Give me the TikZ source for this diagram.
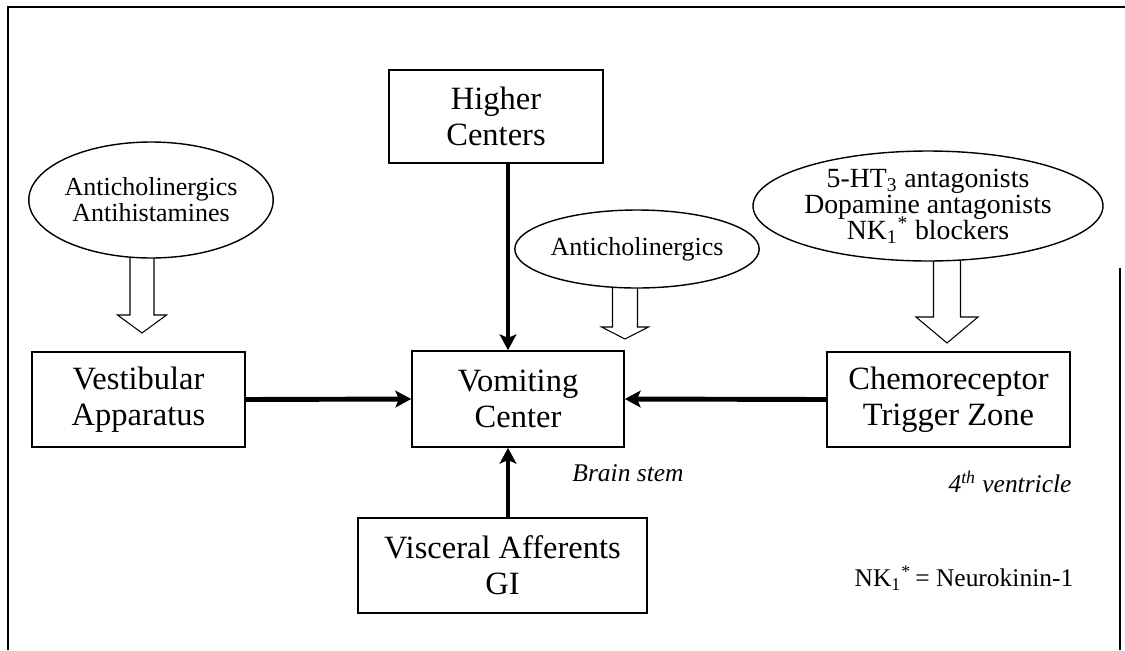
\documentclass[tikz,border=0pt]{standalone}
\usepackage{fontspec}
\setmainfont{Liberation Serif}
\usepackage{tikz}
\usetikzlibrary{calc,arrows.meta,shapes.geometric,backgrounds}
\newcommand{\tightlines}{\lineskiplimit=-20pt\relax}
\tikzset{
  box/.style={draw, line width=0.9pt, align=center, inner sep=0pt, font=\fontsize{18.5}{20.5}\selectfont},
  drug/.style={draw, ellipse, fill=white, line width=0.8pt, align=center, inner sep=0pt,
    font=\fontsize{14.8}{14.8}\selectfont\tightlines},
  flow/.style={line width=2.8pt, -{Stealth[length=9pt,width=9.5pt,inset=2pt]}},
  hollow/.style={draw, line width=0.6pt, line join=miter},
  note/.style={font=\fontsize{14.5}{16}\selectfont\itshape},
  frame/.style={line width=1.1pt},
}
% hollow block arrow: ellipse, tip, head length, shaft half width, head half width
\newcommand{\hollowarr}[5]{%
  \draw[hollow] ($(#2|-#1.south)+(-#4,-6)$) -- ($(#2)+(-#4,-#3)$) -- ($(#2)+(-#5,-#3)$)
    -- (#2) -- ($(#2)+(#5,-#3)$) -- ($(#2)+(#4,-#3)$) -- ($(#2|-#1.south)+(#4,-6)$);}

\begin{document}
\begin{tikzpicture}[x=0.02cm, y=-0.02cm]
  \useasboundingbox (0,0) rectangle (1125,650);
  \draw[frame] (1125,7) -- (8,7) -- (8,650);
  \draw[frame] (1120,268) -- (1120,650);

  % boxes
  \node[box, minimum width=4.28cm, minimum height=1.86cm] (higher) at (496,116.5) {Higher\\Centers};
  \node[box, minimum width=4.26cm, minimum height=1.9cm] (vest) at (138.5,399.5) {Vestibular\\Apparatus};
  \node[box, minimum width=4.24cm, minimum height=1.92cm] (vomit) at (518,399) {Vomiting\\Center};
  \node[box, minimum width=4.86cm, minimum height=1.9cm] (chemo) at (948.5,399.5) {Chemoreceptor\\Trigger Zone};
  \node[box, minimum width=5.78cm, minimum height=1.9cm] (visc) at (502.5,565.5) {Visceral Afferents\\GI};

  % drugs
  \node[drug, minimum width=4.76cm, minimum height=2.32cm] (lel) at (151,200) {Anticholinergics\\Antihistamines};
  \node[drug, minimum width=4.3cm, minimum height=1.56cm] (mel) at (637,249) {Anticholinergics};
  \node[drug, minimum width=7.0cm, minimum height=2.2cm, font=\fontsize{15.8}{14.8}\selectfont\tightlines] (rel) at (928,206)
    {5-HT\textsubscript{3} antagonists\\Dopamine antagonists\\NK\textsubscript{1}\textsuperscript{*} blockers};

  \node[note] (stem) at (628,473) {Brain stem};
  \node[note] (vent) at (1010,482) {4\textsuperscript{th} ventricle};
  \node[font=\fontsize{14.5}{16}\selectfont] (nk) at (964,578) {NK\textsubscript{1}\textsuperscript{*}\,= Neurokinin-1};

  \coordinate (vx) at (508,0);
  \draw[flow] (higher.south -| vx) -- (vomit.north -| vx);
  \draw[flow] (visc.north -| vx) -- (vomit.south -| vx);
  \draw[flow] (vest.east) -- (vomit.west);
  \draw[flow] (chemo.west) -- (vomit.east);

  \coordinate (ltip) at (142,333);
  \coordinate (mtip) at (625,339);
  \coordinate (rtip) at (947,343);
  \begin{scope}[on background layer]
    \hollowarr{lel}{ltip}{18}{12}{24.5}
    \hollowarr{mel}{mtip}{12}{12.5}{23.5}
    \hollowarr{rel}{rtip}{26}{13.5}{31}
  \end{scope}
\end{tikzpicture}
\end{document}
